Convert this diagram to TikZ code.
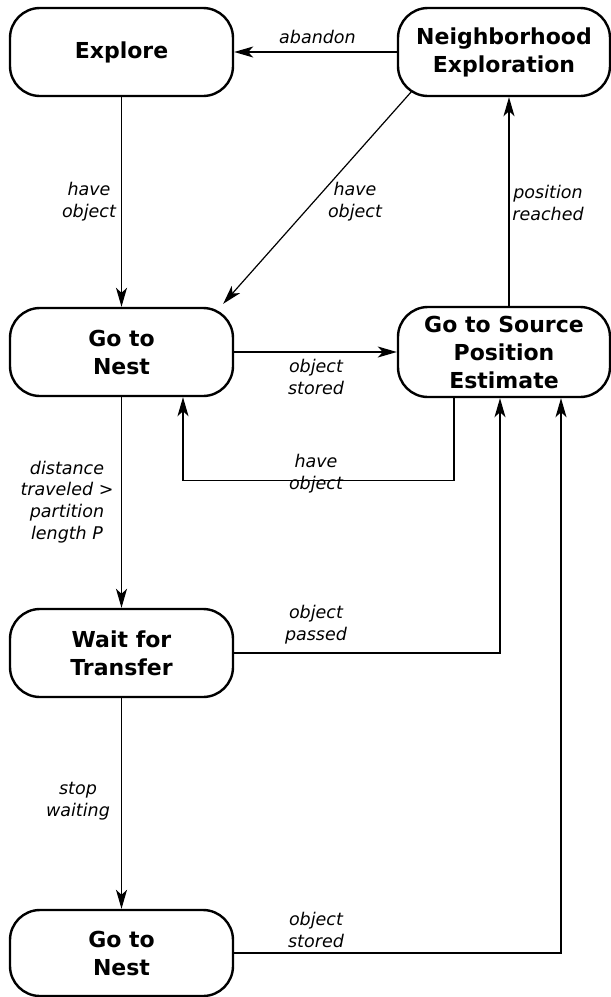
\documentclass[tikz,border=0pt]{standalone}
\usepackage{fontspec}
\setmainfont{DejaVu Sans}
\usetikzlibrary{arrows.meta,calc}

\tikzset{
  state/.style={draw, line width=2.4pt, rounded corners=30pt,
    minimum width=223pt, minimum height=88pt, inner sep=0pt,
    align=center, font=\fontsize{22}{28}\selectfont\bfseries},
  lbl/.style={align=center, inner sep=0pt,
    font=\fontsize{17.5}{22}\selectfont\itshape},
  arr/.style={line width=1.2pt,
    -{Stealth[length=19pt,width=11pt,inset=5pt]}},
}

\begin{document}
\begin{tikzpicture}[x=1pt,y=-1pt]
  \useasboundingbox (0,0) rectangle (611,997);

  % states
  \node[state] (explore) at (121.5,52) {Explore};
  \node[state, minimum width=212pt] (nbr) at (504,52) {Neighborhood\\Exploration};
  \node[state] (nest1) at (121.5,352) {Go to\\Nest};
  \node[state, minimum width=212pt, minimum height=90pt] (src) at (504,352)
    {Go to Source\\Position\\Estimate};
  \node[state] (wait) at (121.5,653) {Wait for\\Transfer};
  \node[state, minimum height=86pt] (nest2) at (121.5,953) {Go to\\Nest};

  % transitions
  \draw[arr] (nbr.west) -- (explore.east);
  \draw[arr] (explore.south) -- (nest1.north);
  \draw[arr] ($(nbr.south west)+(15,-6)$) -- ($(nest1.north east)+(-11,-3)$);
  \draw[arr] ([xshift=5pt]src.north) -- ([xshift=5pt]nbr.south);
  \draw[arr] (nest1.east) -- (src.west);
  \draw[arr] ([xshift=-50pt]src.south) -- ++(0,82) -| ([xshift=61.5pt]nest1.south);
  \draw[arr] (nest1.south) -- (wait.north);
  \draw[arr] (wait.east) -| ([xshift=-4pt]src.south);
  \draw[arr] (wait.south) -- (nest2.north);
  \draw[arr] (nest2.east) -| ([xshift=57pt]src.south);

  % transition labels
  \node[lbl] (l1) at (317.5,37) {abandon};
  \node[lbl] (l2) at (89,202) {have\\object};
  \node[lbl] (l3) at (355,202) {have\\object};
  \node[lbl] (l4) at (548,203) {position\\reached};
  \node[lbl] (l5) at (316,377) {object\\stored};
  \node[lbl] (l6) at (316,474) {have\\object};
  \node[lbl, font=\fontsize{17.5}{21.7}\selectfont\itshape] (l7) at (67,502)
    {distance\\traveled >\\partition\\length P};
  \node[lbl] (l8) at (316,625) {object\\passed};
  \node[lbl] (l9) at (78,801) {stop\\waiting};
  \node[lbl] (l10) at (316,930) {object\\stored};
\end{tikzpicture}
\end{document}
